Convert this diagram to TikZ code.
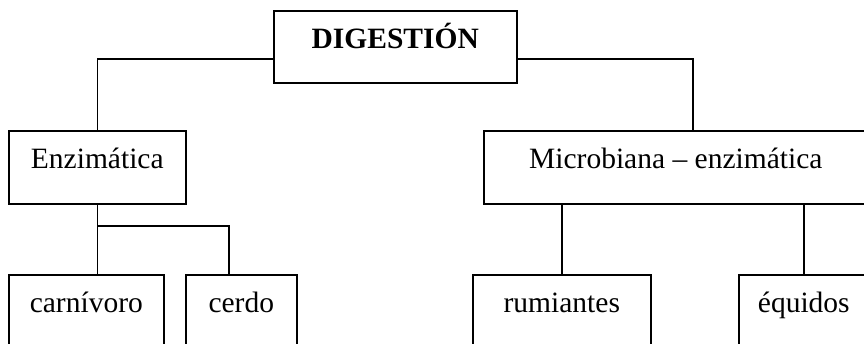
\documentclass[tikz,border=0pt]{standalone}
\usepackage{fontspec}
\setmainfont{Liberation Serif}
\begin{document}
\begin{tikzpicture}[x=1pt,y=-1pt,line width=1.6pt,
  box/.style={draw, rectangle, inner sep=0pt, anchor=north west,
    font=\fontsize{29.5}{34}\selectfont, text height=38pt},
  conn/.style={draw, line width=1.6pt}]
\useasboundingbox (0,0) rectangle (864,344);
\clip (0,0) rectangle (864,344);
\node[box, minimum width=243pt, text depth=34pt, font=\fontsize{29.5}{34}\selectfont\bfseries] (dig) at (273,10) {DIGESTIÓN};
\node[box, minimum width=177pt, text depth=35pt] (enz) at (8,130) {Enzimática};
\node[box, minimum width=384pt, text depth=35pt] (mic) at (483,130) {Microbiana – enzimática};
\node[box, minimum width=155pt, text depth=60pt] (carn) at (8,274) {carnívoro};
\node[box, minimum width=111pt, text depth=60pt] (cerdo) at (185,274) {cerdo};
\node[box, minimum width=178pt, text depth=60pt] (rum) at (472,274) {rumiantes};
\node[box, minimum width=130pt, text depth=60pt] (equ) at (738,274) {équidos};
\coordinate (hl) at (97,59);
\coordinate (hr) at (693,59);
\coordinate (hb) at (229,226);
\path[conn] (dig.west |- hl) -| (enz.north);
\path[conn] (dig.east |- hr) -| (mic.north -| hr);
\path[conn] (enz.south) -- (enz.south |- carn.north);
\path[conn] (enz.south |- hb) -| (cerdo.north -| hb);
\path[conn] (rum.north |- mic.south) -- (rum.north);
\path[conn] (equ.north |- mic.south) -- (equ.north);
\end{tikzpicture}
\end{document}
